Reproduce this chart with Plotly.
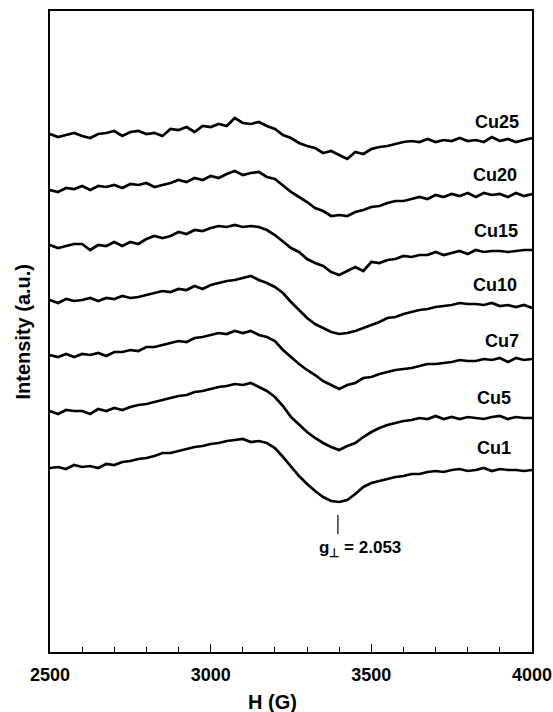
import plotly.graph_objects as go

# Magnetic field (G), sampled every 25 G
field = list(range(2500, 4001, 25))

# Stacked EPR spectra (arbitrary units, offset per sample)
cu25 = [518,515,517,519,516,514,518,519,521,516, 520,521,518,519,516,523,522,525,520,526,
        525,528,526,534,529,528,530,526,523,517, 514,509,506,504,499,501,497,493,500,498,
        503,505,506,508,510,511,510,513,510,512, 511,514,511,512,510,515,511,513,510,512, 514]
cu20 = [462,460,464,463,466,462,466,465,467,464, 468,467,469,465,467,469,472,470,474,472,
        476,474,478,481,477,479,480,475,473,466, 460,455,450,444,441,436,437,436,440,442,
        445,446,449,451,451,453,455,453,457,455, 458,456,459,455,459,457,458,455,459,456, 458]
cu15 = [407,404,406,408,408,402,407,406,410,406, 410,408,413,416,414,416,420,418,422,421,
        424,426,425,427,425,426,425,422,417,410, 404,400,393,389,386,380,377,381,385,381,
        390,389,392,393,396,395,397,397,400,397, 399,401,398,402,400,401,401,400,401,402, 402]
cu10 = [352,349,353,351,352,354,351,354,353,356, 354,355,357,359,361,360,363,362,366,363,
        367,369,371,372,374,376,372,369,365,359, 350,342,334,328,324,320,318,319,321,324,
        327,330,334,335,338,340,342,343,345,346, 347,349,348,348,347,349,346,347,345,347, 344]
cu7 = [297,295,298,295,298,297,299,296,300,300, 302,301,305,305,307,309,311,310,314,315,
       317,319,318,321,319,321,317,315,311,302, 295,288,282,277,271,267,263,267,269,274,
       275,278,280,282,283,284,286,288,288,289, 290,292,291,291,293,292,294,290,294,292, 293]
cu5 = [241,238,242,241,241,238,243,241,244,242, 245,247,248,250,252,254,256,257,260,261,
       263,265,266,268,267,269,265,261,255,246, 235,227,220,214,209,205,202,206,209,215,
       220,224,227,229,231,232,234,233,236,233, 235,233,235,234,233,235,236,233,235,234, 234]
cu1 = [184,185,183,187,185,186,184,188,187,190, 191,193,194,196,199,199,201,203,205,206,
       208,209,211,212,213,210,211,209,204,195, 185,176,168,161,155,151,150,152,158,165,
       169,171,173,175,176,178,178,180,181,180, 182,183,181,182,184,181,183,182,182,181, 182]

series_names = ["Cu25", "Cu20", "Cu15", "Cu10", "Cu7", "Cu5", "Cu1"]
series_values = [cu25, cu20, cu15, cu10, cu7, cu5, cu1]

# label anchor positions (field, intensity)
label_x = [3891, 3885, 3888, 3885, 3907, 3882, 3882]
label_y = [530, 477, 421, 367, 311, 254, 204]

g_perp_field = 3396
g_perp_text = "g<sub>⊥</sub> = 2.053"

FONT = "Liberation Sans, Arial, sans-serif"

fig = go.Figure()
for name, vals in zip(series_names, series_values):
    fig.add_trace(go.Scatter(x=field, y=vals, mode="lines", name=name,
                             line=dict(color="black", width=2.7), showlegend=False))

for name, lx, ly in zip(series_names, label_x, label_y):
    fig.add_annotation(x=lx, y=ly, text="<b>%s</b>" % name, showarrow=False,
                       font=dict(family=FONT, size=18, color="black"),
                       xanchor="center", yanchor="middle")

fig.add_shape(type="line", x0=g_perp_field, x1=g_perp_field, y0=118, y1=137,
              line=dict(color="black", width=1.2))
fig.add_annotation(x=3465, y=103, text="<b>" + g_perp_text + "</b>", showarrow=False,
                   font=dict(family=FONT, size=17, color="black"),
                   xanchor="center", yanchor="middle")

fig.add_annotation(xref="paper", yref="paper", x=0.4606, y=-0.078,
                   text="<b>H (G)</b>", showarrow=False,
                   font=dict(family=FONT, size=20, color="black"),
                   xanchor="center", yanchor="middle")
fig.add_annotation(xref="paper", yref="paper", x=-0.058, y=0.5,
                   text="<b>Intensity (a.u.)</b>", showarrow=False, textangle=-90,
                   font=dict(family=FONT, size=20, color="black"),
                   xanchor="center", yanchor="middle")

fig.update_layout(
    width=553, height=712,
    margin=dict(l=50, r=21, t=11, b=60, autoexpand=False),
    paper_bgcolor="white", plot_bgcolor="white",
    xaxis=dict(range=[2500, 4000], showgrid=False, zeroline=False, automargin=False,
               showline=True, linecolor="black", linewidth=2, mirror=True,
               tickmode="array", tickvals=[2500, 3000, 3500, 4000],
               ticktext=["<b>2500</b>", "<b>3000</b>", "<b>3500</b>", "<b>4000</b>"],
               ticks="inside", ticklen=8, tickwidth=1.3, tickcolor="black",
               ticklabelstandoff=5,
               tickfont=dict(family=FONT, size=18, color="black"),
               minor=dict(dtick=100, tick0=2500, ticks="inside", ticklen=5,
                          tickwidth=1.3, tickcolor="black", showgrid=False)),
    yaxis=dict(range=[0, 641], showgrid=False, zeroline=False, automargin=False,
               showline=True, linecolor="black", linewidth=2, mirror=True,
               showticklabels=False, ticks=""),
)

fig.write_html("out.html", config={"displayModeBar": False},
               post_script="document.body.style.margin='0';document.body.style.overflow='hidden';")
